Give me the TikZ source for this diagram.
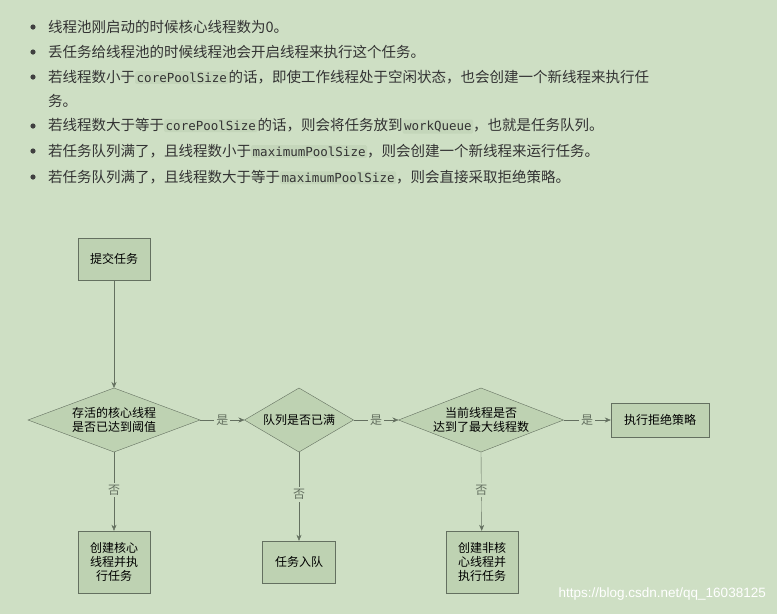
\documentclass[tikz,border=0pt]{standalone}
\usepackage{fontspec}
\setmainfont{Liberation Sans}
\newfontfamily\cjk{Noto Sans CJK SC}
\newfontfamily\codefont{DejaVu Sans Mono}
\usetikzlibrary{positioning,shapes.geometric,arrows.meta}
\definecolor{bgcol}{RGB}{206,223,196}
\definecolor{boxcol}{RGB}{190,210,178}
\definecolor{linecol}{RGB}{100,112,96}
\definecolor{codebg}{RGB}{196,214,186}
\tikzstyle{stepbox}=[rectangle,draw=linecol,fill=boxcol,inner sep=0pt,
  font=\cjk\fontsize{12}{14}\selectfont,align=center]
\tikzstyle{decision}=[rectangle,inner sep=0pt,
  font=\cjk\fontsize{12}{14}\selectfont,align=center]
\tikzstyle{bullet}=[anchor=west,font=\cjk\fontsize{14.5}{17}\selectfont,inner sep=0pt,text=black!80]
\newcommand{\code}[1]{\tikz[baseline=(c.base)]\node[fill=codebg,rounded corners=1.5pt,inner sep=1.5pt](c){\codefont\fontsize{12.5}{14}\selectfont #1};}
\newcommand{\rhomb}[3]{% name, half width, half height
  \coordinate (#1-l) at ([xshift=-#2]#1.center);
  \coordinate (#1-r) at ([xshift=#2]#1.center);
  \coordinate (#1-t) at ([yshift=#3]#1.center);
  \coordinate (#1-b) at ([yshift=-#3]#1.center);
  \filldraw[draw=linecol,fill=boxcol] (#1-l) -- (#1-t) -- (#1-r) -- (#1-b) -- cycle;}
\begin{document}
\begin{tikzpicture}[x=1pt,y=-1pt,>={Stealth[length=6pt,width=5pt]}]
  \fill[bgcol] (0,0) rectangle (777,614);
  \useasboundingbox (0,0) rectangle (777,614);
  % bullet list
  \foreach \yy in {27,52,77,126,151,177}
    \fill[black!75] (33,\yy) circle (2.6);
  \node[bullet] (l1) at (48,27) {线程池刚启动的时候核心线程数为0。};
  \node[bullet] (l2) at (48,52) {丢任务给线程池的时候线程池会开启线程来执行这个任务。};
  \node[bullet] (l3) at (48,77) {若线程数小于\code{corePoolSize}的话，即使工作线程处于空闲状态，也会创建一个新线程来执行任};
  \node[bullet] (l4) at (48,101) {务。};
  \node[bullet] (l5) at (48,126) {若线程数大于等于\code{corePoolSize}的话，则会将任务放到\code{workQueue}，也就是任务队列。};
  \node[bullet] (l6) at (48,151) {若任务队列满了，且线程数小于\code{maximumPoolSize}，则会创建一个新线程来运行任务。};
  \node[bullet] (l7) at (48,177) {若任务队列满了，且线程数大于等于\code{maximumPoolSize}，则会直接采取拒绝策略。};

  % flowchart
  \node[stepbox,minimum width=72,minimum height=42] (submit) at (114,259) {提交任务};
  \coordinate (core) at (114,420);  \rhomb{core}{86pt}{32pt}
  \coordinate (queue) at (299,420); \rhomb{queue}{54.5pt}{32pt}
  \coordinate (max) at (481,420);   \rhomb{max}{82.5pt}{32pt}
  \node[decision] (coretxt) at (core) {存活的核心线程\\是否已达到阈值};
  \node[decision] (queuetxt) at (queue) {队列是否已满};
  \node[decision] (maxtxt) at (max) {当前线程是否\\达到了最大线程数};
  \node[stepbox,minimum width=98,minimum height=34] (reject) at (660,420) {执行拒绝策略};
  \node[stepbox,minimum width=72,minimum height=62] (newcore) at (114,562) {创建核心\\线程并执\\行任务};
  \node[stepbox,minimum width=73,minimum height=42] (enqueue) at (299,562) {任务入队};
  \node[stepbox,minimum width=72,minimum height=62] (newmax) at (482,562) {创建非核\\心线程并\\执行任务};

  \tikzset{every node/.style={font=\cjk\fontsize{12}{14}\selectfont,fill=bgcol,inner sep=2pt}}
  \draw[->,linecol] (submit) -- (core-t);
  \draw[->,linecol] (core-r) -- node {是} (queue-l);
  \draw[->,linecol] (queue-r) -- node {是} (max-l);
  \draw[->,linecol] (max-r) -- node {是} (reject);
  \draw[->,linecol] (core-b) -- node[pos=0.48] {否} (newcore);
  \draw[->,linecol] (queue-b) -- node[pos=0.48] {否} (enqueue);
  \draw[->,linecol] (max-b) -- node[pos=0.48] {否} (newmax);

  \node[anchor=east,fill=none,text=white,font=\fontsize{13.5}{15}\selectfont] (mark) at (768,594) {https://blog.csdn.net/qq\_16038125};
\end{tikzpicture}
\end{document}
